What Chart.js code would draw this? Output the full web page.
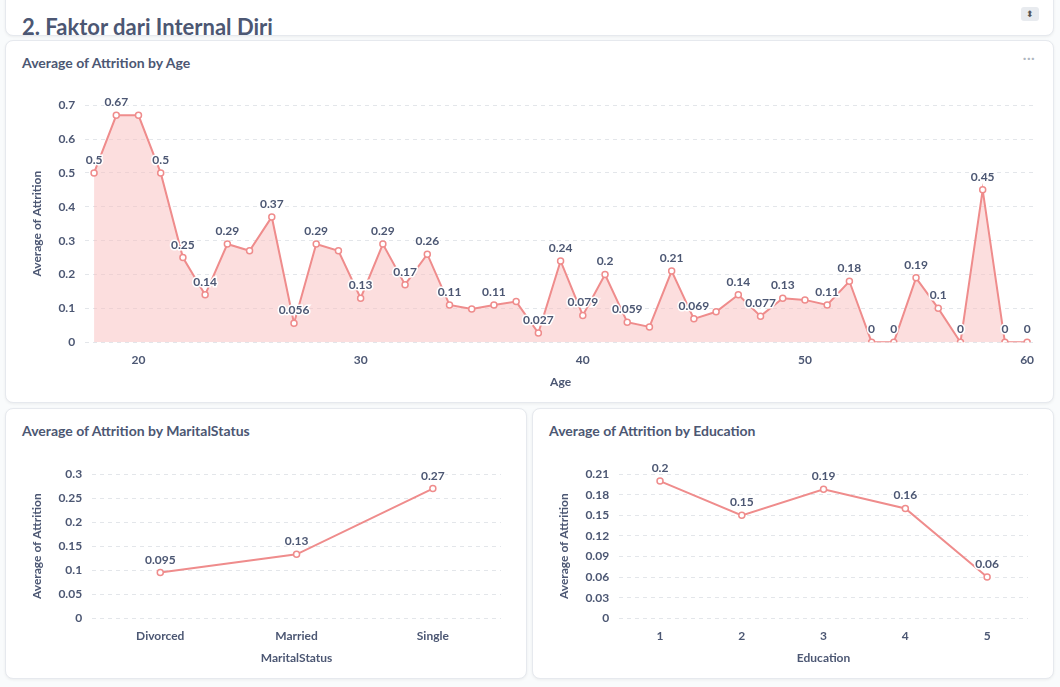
<!DOCTYPE html>
<html><head><meta charset="utf-8">
<script src="https://cdn.jsdelivr.net/npm/chart.js@4.4.0/dist/chart.umd.min.js"></script>
<style>
body{margin:0;background:#f9fbfc;font-family:Lato,sans-serif;width:1060px;height:687px;overflow:hidden;position:relative}
.card{position:absolute;background:#fff;border:1px solid #e6e9ee;border-radius:8px;box-shadow:0 1px 3px rgba(0,0,0,.06)}
.title{position:absolute;left:16px;top:13px;font-size:14px;font-weight:700;color:#4c5773}
.cv{position:absolute}
</style></head><body>
<div class="card" style="left:5px;top:-10px;width:1047px;height:44px;overflow:hidden">
 <div style="position:absolute;left:16px;top:22px;font-size:22px;font-weight:700;color:#4c5773">2. Faktor dari Internal Diri</div>
 <div style="position:absolute;right:14px;top:16px;width:18px;height:14px;background:#e8ebef;border-radius:3px;font-size:9px;text-align:center;line-height:14px;color:#555">&#x2B0D;</div>
</div>
<div class="card" style="left:5px;top:40px;width:1047px;height:361px">
 <div class="title">Average of Attrition by Age</div>
 <div style="position:absolute;right:18px;top:6px;color:#b0b6c0;font-size:16px">···</div>
 <div class="cv" style="left:20px;top:47px;width:1020px;height:305px"><canvas id="c1"></canvas></div>
</div>
<div class="card" style="left:5px;top:408px;width:520px;height:269px">
 <div class="title">Average of Attrition by MaritalStatus</div>
 <div class="cv" style="left:20px;top:48px;width:485px;height:212px"><canvas id="c2"></canvas></div>
</div>
<div class="card" style="left:532px;top:408px;width:520px;height:269px">
 <div class="title">Average of Attrition by Education</div>
 <div class="cv" style="left:20px;top:48px;width:485px;height:212px"><canvas id="c3"></canvas></div>
</div>
<script>
const ages = [18,19,20,21,22,23,24,25,26,27,28,29,30,31,32,33,34,35,36,37,38,39,40,41,42,43,44,45,46,47,48,49,50,51,52,53,54,55,56,57,58,59,60];
const ageAttrition = [0.5,0.67,0.67,0.5,0.25,0.14,0.29,0.27,0.37,0.056,0.29,0.27,0.13,0.29,0.17,0.26,0.11,0.098,0.11,0.12,0.027,0.24,0.079,0.2,0.059,0.045,0.21,0.069,0.09,0.14,0.077,0.13,0.125,0.11,0.18,0,0,0.19,0.1,0,0.45,0,0];
const ageLabels = ['0.5','0.67','','0.5','0.25','0.14','0.29','','0.37','0.056','0.29','','0.13','0.29','0.17','0.26','0.11','','0.11','','0.027','0.24','0.079','0.2','0.059','','0.21','0.069','','0.14','0.077','0.13','','0.11','0.18','0','0','0.19','0.1','0','0.45','0','0'];
const maritalCats = ['Divorced','Married','Single'];
const maritalAttrition = [0.095,0.133,0.27];
const maritalLabels = ['0.095','0.13','0.27'];
const eduCats = ['1','2','3','4','5'];
const eduAttrition = [0.2,0.15,0.188,0.16,0.06];
const eduLabels = ['0.2','0.15','0.19','0.16','0.06'];

const LINE = '#ef8c8c', TXT = '#4c5773', GRID = '#e3e6ea';
const labelPlugin = {
  id: 'pointLabels',
  afterDatasetsDraw(chart) {
    const labels = chart.options.plugins.pointLabels.labels;
    const ctx = chart.ctx;
    ctx.save();
    ctx.font = 'bold 12px Lato';
    ctx.textAlign = 'center';
    ctx.lineWidth = 3; ctx.strokeStyle = '#fff'; ctx.fillStyle = TXT;
    chart.getDatasetMeta(0).data.forEach((p, i) => {
      const t = labels[i];
      if (!t) return;
      ctx.strokeText(t, p.x, p.y - 9);
      ctx.fillText(t, p.x, p.y - 9);
    });
    ctx.restore();
  }
};
Chart.defaults.font.family = 'Lato';
Chart.defaults.color = TXT;
Chart.register(labelPlugin);

function yAxis(max, step) {
  return {
    min: 0, max: max, border: {display: false, dash: [4, 4]},
    grid: {color: GRID, drawTicks: false},
    ticks: {stepSize: step, padding: 10, font: {size: 12, weight: 'bold'},
      callback: v => String(parseFloat(v.toFixed(2)))},
    title: {display: true, text: 'Average of Attrition', font: {size: 12, weight: 'bold'}}
  };
}
function opts(xScale, max, step, labels) {
  return {
    responsive: true, maintainAspectRatio: false, animation: false,
    layout: {padding: {top: 12, right: 10}},
    plugins: {legend: {display: false}, tooltip: {enabled: false}, pointLabels: {labels: labels}},
    scales: {x: xScale, y: yAxis(max, step)}
  };
}
function ds(data, fill) {
  return {data: data, borderColor: LINE, backgroundColor: fill ? 'rgba(249,190,190,0.5)' : LINE,
    fill: fill ? 'origin' : false, borderWidth: 2, tension: 0,
    pointRadius: 3, pointBackgroundColor: '#fff', pointBorderColor: LINE, pointBorderWidth: 1.5};
}

new Chart(document.getElementById('c1'), {
  type: 'line',
  data: {datasets: [ds(ages.map((a, i) => ({x: a, y: ageAttrition[i]})), true)]},
  options: opts({
      type: 'linear', min: 17.6, max: 60.4,
      grid: {display: false}, border: {display: false},
      afterBuildTicks: s => { s.ticks = [20, 30, 40, 50, 60].map(v => ({value: v})); },
      ticks: {font: {size: 12, weight: 'bold'}},
      title: {display: true, text: 'Age', font: {size: 12, weight: 'bold'}}
    }, 0.7, 0.1, ageLabels)
});
function catChart(id, cats, vals, labels, title, max, step) {
  const o = opts({
    grid: {display: false}, border: {display: false}, offset: true,
    ticks: {font: {size: 12, weight: 'bold'}},
    title: {display: true, text: title, font: {size: 12, weight: 'bold'}}
  }, max, step, labels);
  new Chart(document.getElementById(id), {type: 'line', data: {labels: cats, datasets: [ds(vals, false)]}, options: o});
}
catChart('c2', maritalCats, maritalAttrition, maritalLabels, 'MaritalStatus', 0.3, 0.05);
catChart('c3', eduCats, eduAttrition, eduLabels, 'Education', 0.21, 0.03);
</script>
</body></html>
